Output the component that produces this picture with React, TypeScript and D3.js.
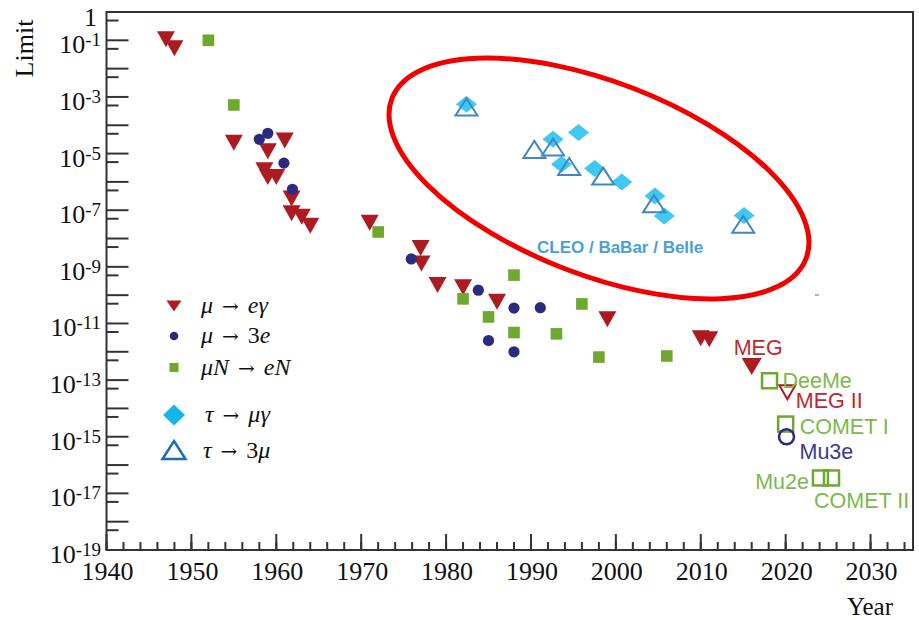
import React from "react";
import * as d3 from "d3";

// ---- data ----
const muEGammaYears = [1947, 1948, 1955, 1961, 1959, 1958.6, 1959, 1960, 1961.8, 1961.8, 1963, 1964, 1971, 1977, 1977.1, 1979, 1982, 1986, 1999, 2010, 2011];
const muEGammaValues = [1.1e-1, 5.2e-2, 2.4e-5, 2.9e-5, 1.2e-5, 2.6e-6, 1.5e-6, 1.5e-6, 2.6e-7, 7.8e-8, 5.9e-8, 2.8e-8, 3.6e-8, 4.6e-9, 1.3e-9, 2.3e-10, 1.9e-10, 5.9e-11, 1.4e-11, 3.0e-12, 2.8e-12];

const mu3eYears = [1958, 1959, 1960.9, 1961.9, 1975.9, 1983.8, 1988, 1991.1, 1985, 1988];
const mu3eValues = [3.2e-5, 5.2e-5, 4.6e-6, 5.5e-7, 1.9e-9, 1.5e-10, 3.5e-11, 3.6e-11, 2.5e-12, 1.0e-12];

const muNeNYears = [1952, 1955, 1972, 1982, 1988, 1985, 1988, 1993, 1996, 1998, 2006];
const muNeNValues = [1.0e-1, 5.2e-4, 1.7e-8, 7.4e-11, 5.1e-10, 1.7e-11, 4.8e-12, 4.3e-12, 4.9e-11, 6.5e-13, 7.1e-13];

const tauMuGammaYears = [1982.4, 1992.6, 1995.6, 1993.6, 1997.5, 2000.7, 2004.6, 2005.7, 2015.1];
const tauMuGammaValues = [5.5e-4, 3.2e-5, 5.6e-5, 4.2e-6, 3.0e-6, 1.0e-6, 3.2e-7, 6.3e-8, 6.5e-8];

const tau3MuYears = [1982.4, 1990.4, 1992.6, 1994.5, 1998.5, 2004.5, 2015.0];
const tau3MuValues = [4.4e-4, 1.4e-5, 1.7e-5, 3.5e-6, 1.6e-6, 1.7e-7, 3.2e-8];

// experiments (current / future)
const expNames = ["MEG", "DeeMe", "MEG II", "COMET I", "Mu3e", "Mu2e", "COMET II"];
const expKinds = ["meg", "open-square", "open-tri", "open-square", "open-circle", "open-square", "open-square"];
const expYears = [2016, 2018.1, 2020.2, 2020.0, 2020.1, 2024.1, 2025.4];
const expValues = [3.0e-13, 9.5e-14, 3.7e-14, 2.8e-15, 1.0e-15, 3.5e-17, 3.5e-17];
// label placement (style)
const expLabelDx = [-18, 13, 8.5, 14, 13, -11.5, -17.5];
const expLabelDy = [-12, 7, 16, 10, 22, 11, 30];
const expLabelAnchor = ["start", "start", "start", "start", "start", "end", "start"];

const xMajorTicks = [1940, 1950, 1960, 1970, 1980, 1990, 2000, 2010, 2020, 2030];
const yLabelExps = [0, -1, -3, -5, -7, -9, -11, -13, -15, -17, -19];

// ---- colors ----
const RED = "#ad1a20";
const NAVY = "#2b2a7f";
const GREEN = "#6ea82f";
const CYAN = "#3fc8f2";
const TAUBLUE = "#3f86c6";
const LBL_RED = "#c1272d";
const LBL_GREEN = "#7cb84a";
const LBL_NAVY = "#3a3a90";

const W = 919, H = 620;
const x = d3.scaleLinear().domain([1940, 2035]).range([106.5, 913]);
const y = d3.scaleLog().domain([1e-19, 1]).range([550, 12]);

const downTri = (cx: number, cy: number, w: number, h: number) =>
  `M${cx - w / 2},${cy - h / 2}L${cx + w / 2},${cy - h / 2}L${cx},${cy + h / 2}Z`;
const upTri = (cx: number, cy: number, w: number, h: number) =>
  `M${cx - w / 2},${cy + h / 2}L${cx + w / 2},${cy + h / 2}L${cx},${cy - h / 2}Z`;
const diamond = (cx: number, cy: number, w: number, h: number) =>
  `M${cx},${cy - h / 2}L${cx + w / 2},${cy}L${cx},${cy + h / 2}L${cx - w / 2},${cy}Z`;

const SERIF = "'Liberation Serif', 'Times New Roman', 'DejaVu Serif', serif";
const SANS = "'Liberation Sans', Arial, Helvetica, sans-serif";
const ARROW_FONT = "'DejaVu Serif', serif";

export default function App() {
  const x0 = x.range()[0], x1 = x.range()[1];
  const yb = y.range()[0], yt = y.range()[1];

  const yMajor = d3.range(-19, 1).map((k) => Math.pow(10, k));
  const yMinor = d3.range(-19, 0).map((k) => 5 * Math.pow(10, k));
  const xMinor = d3.range(1940, 2035, 2);

  const legendRows = [306, 336, 367.5, 415, 450];
  const lx = 174;

  const arrow = <tspan dx={9} fontFamily={ARROW_FONT} fontSize={20}>→</tspan>;

  return (
    <svg width={W} height={H} style={{ display: "block", position: "absolute", left: 0, top: 0 }}>
      <rect x={0} y={0} width={W} height={H} fill="#fff" />

      {/* frame */}
      <rect x={x0} y={yt} width={x1 - x0} height={yb - yt} fill="none" stroke="#333" strokeWidth={2} />

      {/* y ticks */}
      {yMajor.map((v, i) => (
        <line key={"ym" + i} x1={x0} x2={x0 + 22} y1={y(v)} y2={y(v)} stroke="#333" strokeWidth={2} />
      ))}
      {yMinor.map((v, i) => (
        <line key={"yn" + i} x1={x0} x2={x0 + 12} y1={y(v)} y2={y(v)} stroke="#333" strokeWidth={2} />
      ))}
      {/* y labels */}
      {yLabelExps.map((k) =>
        k === 0 ? (
          <text key={"yl" + k} x={97} y={y(1) + 14} textAnchor="end" fontFamily={SERIF} fontSize={26} fill="#111">1</text>
        ) : (
          <text key={"yl" + k} x={101} y={y(Math.pow(10, k)) + 13} textAnchor="end" fontFamily={SERIF} fontSize={26} fill="#111">
            10<tspan fontSize={19} dy={-7}>{"-" + Math.abs(k)}</tspan>
          </text>
        )
      )}

      {/* x ticks */}
      {xMinor.map((v) => (
        <line key={"xn" + v} x1={x(v)} x2={x(v)} y1={yb} y2={yb - 8} stroke="#333" strokeWidth={2} />
      ))}
      {xMajorTicks.map((v) => (
        <line key={"xm" + v} x1={x(v)} x2={x(v)} y1={yb} y2={yb - 16} stroke="#333" strokeWidth={2} />
      ))}
      {xMajorTicks.map((v) => (
        <text key={"xl" + v} x={x(v) + 1} y={580} textAnchor="middle" fontFamily={SERIF} fontSize={26} fill="#111">{v}</text>
      ))}

      {/* axis titles */}
      <text transform="translate(33,48.5) rotate(-90)" textAnchor="middle" fontFamily={SERIF} fontSize={26} fill="#111">Limit</text>
      <text x={893} y={615} textAnchor="end" fontFamily={SERIF} fontSize={25} fill="#111">Year</text>

      {/* mu -> e gamma */}
      {muEGammaYears.map((yr, i) => (
        <path key={"r" + i} d={downTri(x(yr), y(muEGammaValues[i]), 18, 16)} fill={RED} />
      ))}
      {/* mu -> 3e */}
      {mu3eYears.map((yr, i) => (
        <circle key={"b" + i} cx={x(yr)} cy={y(mu3eValues[i])} r={5.6} fill={NAVY} />
      ))}
      {/* mu N -> e N */}
      {muNeNYears.map((yr, i) => (
        <rect key={"g" + i} x={x(yr) - 5.8} y={y(muNeNValues[i]) - 5.8} width={11.6} height={11.6} fill={GREEN} />
      ))}
      {/* tau -> mu gamma */}
      {tauMuGammaYears.map((yr, i) => (
        <path key={"d" + i} d={diamond(x(yr), y(tauMuGammaValues[i]), 21, 17)} fill={CYAN} />
      ))}
      {/* tau -> 3 mu */}
      {tau3MuYears.map((yr, i) => (
        <path key={"t" + i} d={upTri(x(yr), y(tau3MuValues[i]), 22, 17)} fill="none" stroke={TAUBLUE} strokeWidth={2} />
      ))}

      {/* experiments */}
      {expYears.map((yr, i) => {
        const cx = x(yr), cy = y(expValues[i]);
        const kind = expKinds[i];
        if (kind === "meg") return <path key={"e" + i} d={downTri(cx, cy, 20, 17)} fill={RED} />;
        if (kind === "open-tri") return <path key={"e" + i} d={downTri(cx, cy, 16, 14)} fill="none" stroke={RED} strokeWidth={2} />;
        if (kind === "open-circle") return <circle key={"e" + i} cx={cx} cy={cy} r={7.5} fill="none" stroke={NAVY} strokeWidth={2.5} />;
        return <rect key={"e" + i} x={cx - 7.5} y={cy - 7.5} width={15} height={15} fill="none" stroke={GREEN} strokeWidth={2.5} />;
      })}
      {expNames.map((nm, i) => {
        const kind = expKinds[i];
        const col = kind === "meg" || kind === "open-tri" ? LBL_RED : kind === "open-circle" ? LBL_NAVY : LBL_GREEN;
        return (
          <text key={"en" + i} x={x(expYears[i]) + expLabelDx[i]} y={y(expValues[i]) + expLabelDy[i]}
            textAnchor={expLabelAnchor[i]} fontFamily={SANS} fontSize={21.5} fill={col}>{nm}</text>
        );
      })}

      {/* highlight ellipse */}
      <ellipse cx={599} cy={178.5} rx={222} ry={96.5} transform="rotate(21.15 599 178.5)" fill="none" stroke="#f20000" strokeWidth={5} />
      <text x={537} y={253} fontFamily={SANS} fontWeight="bold" fontSize={17} fill="#4aa0d5">CLEO / BaBar / Belle</text>
      <line x1={815} x2={819} y1={295} y2={295} stroke="#666" strokeWidth={1} />

      {/* legend */}
      <path d={downTri(lx, legendRows[0], 15, 11)} fill={RED} />
      <circle cx={lx} cy={legendRows[1]} r={4.3} fill={NAVY} />
      <rect x={lx - 4.5} y={legendRows[2] - 4.5} width={9} height={9} fill={GREEN} />
      <path d={diamond(lx, legendRows[3], 22, 21)} fill="#16b5e8" />
      <path d={upTri(lx, legendRows[4], 23, 18)} fill="none" stroke="#1a6db3" strokeWidth={2.5} />

      <g fontFamily={SERIF} fontSize={24} fill="#111">
        <text x={201} y={313}>
          <tspan fontStyle="italic">μ</tspan>{arrow}<tspan dx={9} fontStyle="italic">eγ</tspan>
        </text>
        <text x={201} y={343}>
          <tspan fontStyle="italic">μ</tspan>{arrow}<tspan dx={9}>3</tspan><tspan fontStyle="italic">e</tspan>
        </text>
        <text x={201} y={375}>
          <tspan fontStyle="italic">μN</tspan>{arrow}<tspan dx={9} fontStyle="italic">eN</tspan>
        </text>
        <text x={205} y={422}>
          <tspan fontStyle="italic">τ</tspan>{arrow}<tspan dx={9} fontStyle="italic">μγ</tspan>
        </text>
        <text x={203} y={458}>
          <tspan fontStyle="italic">τ</tspan>{arrow}<tspan dx={9}>3</tspan><tspan fontStyle="italic">μ</tspan>
        </text>
      </g>
    </svg>
  );
}
